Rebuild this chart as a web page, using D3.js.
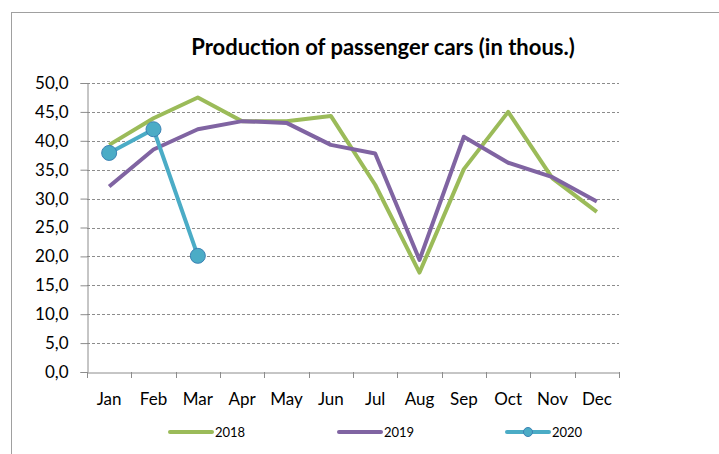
<!DOCTYPE html>
<html><head><meta charset="utf-8">
<script src="https://cdn.jsdelivr.net/npm/d3@7"></script>
<style>body{margin:0;background:#fff}svg{display:block}text{font-family:Lato,"Open Sans",sans-serif;fill:#000}</style>
</head><body><svg id="c" width="719" height="454"></svg>
<script>
const months = ["Jan","Feb","Mar","Apr","May","Jun","Jul","Aug","Sep","Oct","Nov","Dec"];
const s2018 = [39.3,43.9,47.5,43.4,43.4,44.3,32.4,17.2,35.1,45.0,33.5,27.7];
const s2019 = [32.1,38.5,42.0,43.4,43.1,39.3,37.8,19.4,40.7,36.2,33.7,29.5];
const s2020 = [37.9,42.0,20.1];
const yTicks = [0,5,10,15,20,25,30,35,40,45,50];
const seriesNames = ["2018","2019","2020"];
const colors = ["#9BBB59","#8064A2","#4BACC6"];

const svg = d3.select("#c");
svg.append("rect").attr("x",11.5).attr("y",12.5).attr("width",720).attr("height",460)
  .attr("fill","none").attr("stroke","#a0a0a0");

svg.append("text").attr("x",383).attr("y",55).attr("text-anchor","middle")
  .style("font-size","22px").style("font-weight","bold").text("Production of passenger cars (in thous.)");

const x = d3.scaleBand().domain(months).range([87,619]);
const y = d3.scaleLinear().domain([0,50]).range([372,83]);

// grid
svg.append("g").selectAll("line").data(yTicks.filter(d=>d>0)).join("line")
  .attr("x1",87).attr("x2",619).attr("y1",d=>Math.round(y(d))+0.5).attr("y2",d=>Math.round(y(d))+0.5)
  .attr("stroke","#8c8c8c").attr("stroke-dasharray","3,2");

const fmt = d => d.toFixed(1).replace(".",",");
const ya = svg.append("g").attr("transform","translate(87.5,0)")
  .call(d3.axisLeft(y).tickValues(yTicks).tickFormat(fmt).tickSize(7).tickPadding(12));
ya.select(".domain").attr("stroke","#8c8c8c");
ya.selectAll(".tick line").attr("stroke","#8c8c8c");
ya.selectAll("text").style("font-size","17px").style("font-family","Lato, sans-serif").attr("fill","#000");

const xa = svg.append("g").attr("transform","translate(0,372.5)")
  .call(d3.axisBottom(x).tickSize(0).tickPadding(20));
xa.select(".domain").attr("stroke","#8c8c8c");
xa.selectAll(".tick line").remove();
xa.selectAll("text").style("font-size","17px").style("font-family","Lato, sans-serif").attr("fill","#000");
// category boundary ticks
const bounds = months.map(m=>x(m)).concat([x.range()[1]]);
svg.append("g").selectAll("line").data(bounds).join("line")
  .attr("x1",d=>Math.round(d)+0.5).attr("x2",d=>Math.round(d)+0.5).attr("y1",372).attr("y2",378)
  .attr("stroke","#8c8c8c");

const line = d3.line().x((d,i)=>x(months[i])+x.bandwidth()/2).y(d=>y(d));
[s2018,s2019,s2020].forEach((s,k)=>{
  svg.append("path").datum(s).attr("d",line).attr("fill","none")
    .attr("stroke",colors[k]).attr("stroke-width",4).attr("stroke-linejoin","round");
});
svg.append("g").selectAll("circle").data(s2020).join("circle")
  .attr("cx",(d,i)=>x(months[i])+x.bandwidth()/2).attr("cy",d=>y(d)).attr("r",7.5)
  .attr("fill","#4BACC6").attr("stroke","#3C82B4").attr("stroke-width",1);

// legend
const lx = [170,339,507];
seriesNames.forEach((n,k)=>{
  const g = svg.append("g");
  g.append("line").attr("x1",lx[k]).attr("x2",lx[k]+42).attr("y1",432).attr("y2",432)
    .attr("stroke",colors[k]).attr("stroke-width",4).attr("stroke-linecap","round");
  if(k===2) g.append("circle").attr("cx",lx[k]+21).attr("cy",432).attr("r",4.5)
    .attr("fill","#4BACC6").attr("stroke","#3C82B4");
  g.append("text").attr("x",lx[k]+45).attr("y",437).style("font-size","13px").text(n);
});
</script></body></html>
